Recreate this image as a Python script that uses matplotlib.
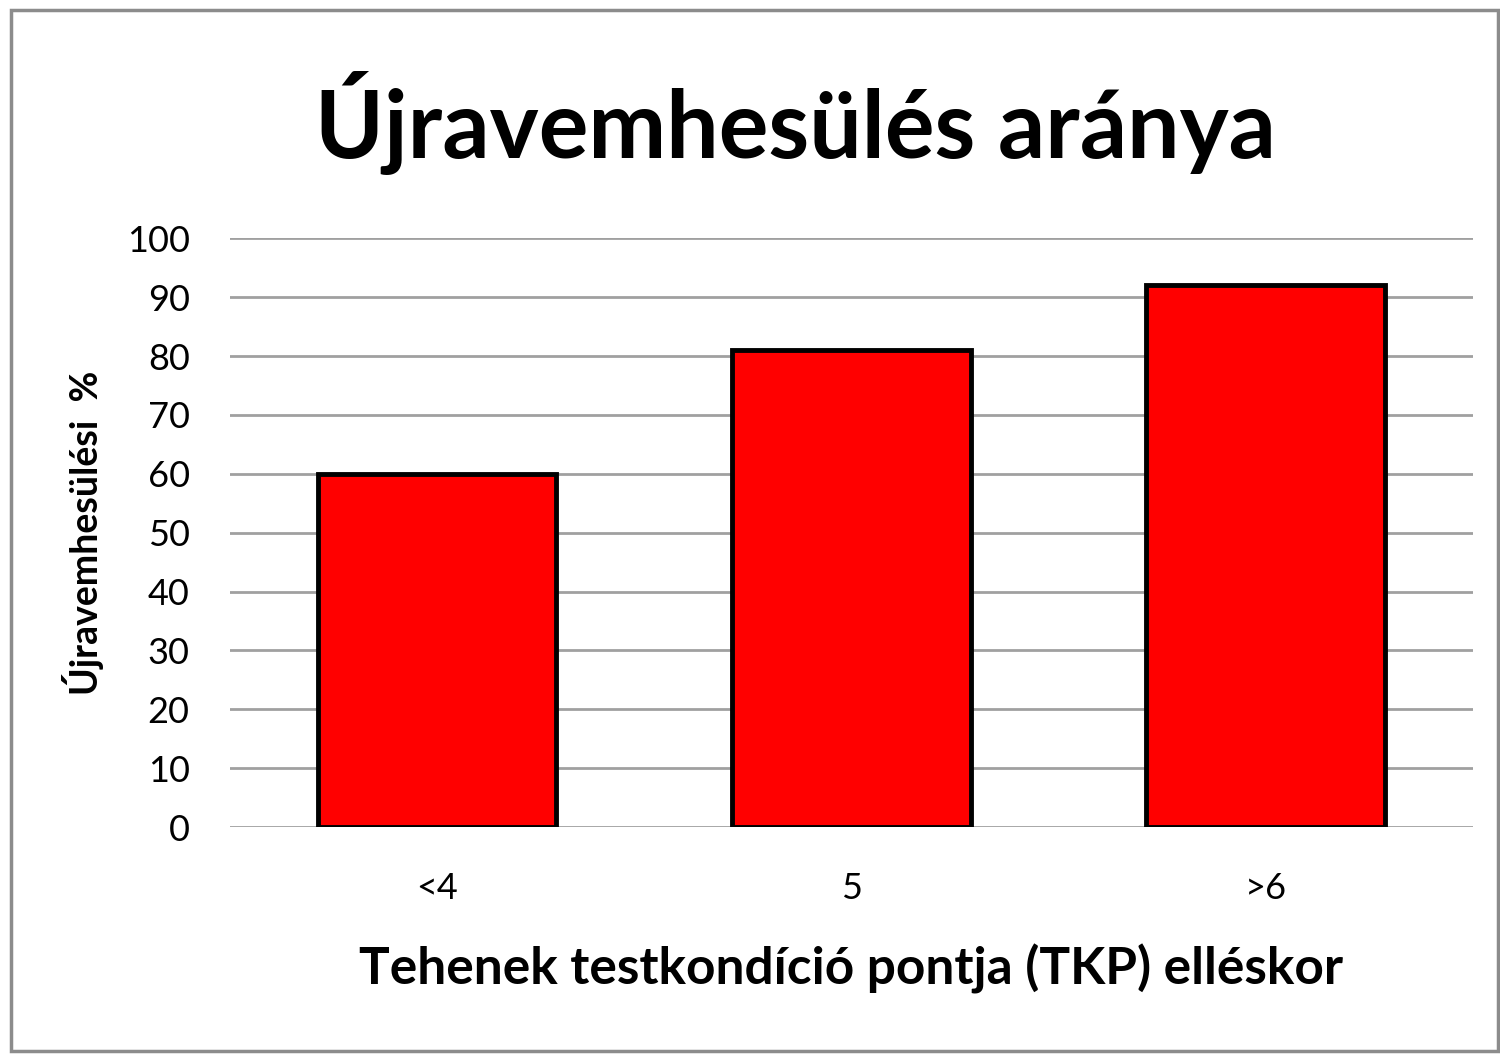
import matplotlib.pyplot as plt
from matplotlib.patches import Rectangle

categories = ["<4", "5", ">6"]
values = [60, 81, 92]
yticks = [0, 10, 20, 30, 40, 50, 60, 70, 80, 90, 100]

plt.rcParams['font.family'] = ['Lato', 'DejaVu Sans']

fig = plt.figure(figsize=(15, 10.59), dpi=100)
fig.patches.append(Rectangle((0.0075, 0.008), 0.991, 0.983, transform=fig.transFigure,
                             fill=False, edgecolor='#8c8c8c', linewidth=2.5))
ax = fig.add_axes([0.1533, 0.219, 0.8287, 0.556])

x = range(len(categories))
ax.bar(x, values, width=0.576, color='#ff0000', edgecolor='black', linewidth=3.5, zorder=3)

ax.set_xlim(-0.5, 2.5)
ax.set_ylim(0, 100)
ax.set_yticks(yticks)
ax.set_xticks(list(x))
ax.set_xticklabels(categories)
for s in ax.spines.values():
    s.set_visible(False)
ax.grid(axis='y', color='#a0a0a0', linewidth=2, zorder=0)
ax.tick_params(axis='both', length=0, labelsize=26)
ax.tick_params(axis='y', pad=29)
ax.tick_params(axis='x', pad=32)

ax.set_ylabel("Újravemhesülési  %", fontsize=27, fontweight='bold', labelpad=16)
ax.set_xlabel("Tehenek testkondíció pontja (TKP) elléskor", fontsize=37, fontweight='bold', labelpad=28)
fig.text(0.53, 0.884, "Újravemhesülés aránya", ha='center', va='center', fontsize=67, fontweight='bold')

fig.savefig("out.png", dpi=100, facecolor='white')
